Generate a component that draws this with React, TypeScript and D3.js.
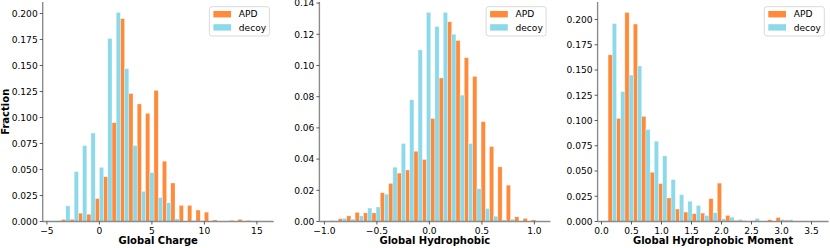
import React from "react";
import * as d3 from "d3";

const W = 830;
const H = 248;

// Global Charge
const chargeStart = -4.4;
const chargeBin = 0.8;
const chargeAPD = [0, 0.002, 0.002, 0.008, 0.007, 0.022, 0.043, 0.095, 0.195, 0.123, 0.113, 0.104, 0.126, 0.058, 0.037, 0.0155, 0.0155, 0.011, 0.009, 0.0015, 0, 0.001, 0.002, 0.001, 0.0005];
const chargeDecoy = [0.001, 0.015, 0.048, 0.073, 0.085, 0.052, 0.176, 0.201, 0.147, 0.073, 0.029, 0.047, 0.023, 0.018, 0.0025, 0.0005, 0.001, 0.001, 0, 0, 0, 0, 0, 0, 0];
const chargeXTicks = [-5, 0, 5, 10, 15];
const chargeYTicks = [0, 0.025, 0.05, 0.075, 0.1, 0.125, 0.15, 0.175, 0.2];

// Global Hydrophobic
const hydroStart = -0.9476;
const hydroBin = 0.08;
const hydroAPD = [0.0005, 0.0018, 0.0036, 0.0058, 0.0055, 0.0055, 0.0184, 0.0244, 0.031, 0.033, 0.045, 0.0397, 0.066, 0.092, 0.128, 0.116, 0.105, 0.093, 0.064, 0.048, 0.035, 0.0233, 0.003, 0.002, 0.001];
const hydroDecoy = [0, 0.002, 0.0015, 0.0036, 0.0086, 0.0093, 0.0175, 0.0348, 0.05, 0.078, 0.11, 0.134, 0.125, 0.134, 0.12, 0.081, 0.05, 0.021, 0.0083, 0.0034, 0.001, 0.0015, 0, 0, 0];
const hydroXTicks = [-1.0, -0.5, 0.0, 0.5, 1.0];
const hydroYTicks = [0, 0.02, 0.04, 0.06, 0.08, 0.1, 0.12, 0.14];

// Global Hydrophobic Moment
const momentStart = 0.11;
const momentBin = 0.14;
const momentAPD = [0.165, 0.102, 0.207, 0.1955, 0.104, 0.0487, 0.0375, 0.0233, 0.0123, 0.0093, 0.0077, 0.0083, 0.0226, 0.038, 0.006, 0.001, 0.0007, 0.0007, 0, 0.0017, 0.004, 0.0013, 0, 0, 0];
const momentDecoy = [0.196, 0.1286, 0.145, 0.154, 0.091, 0.0795, 0.065, 0.0415, 0.0265, 0.02, 0.0158, 0.006, 0.0087, 0.0027, 0.0043, 0.002, 0.0003, 0.003, 0.0005, 0.0003, 0.002, 0.0017, 0.0005, 0.0003, 0.0003];
const momentXTicks = [0, 0.5, 1.0, 1.5, 2.0, 2.5, 3.0, 3.5];
const momentYTicks = [0, 0.025, 0.05, 0.075, 0.1, 0.125, 0.15, 0.175, 0.2];

const seriesNames = ["APD", "decoy"];
const xLabels = ["Global Charge", "Global Hydrophobic", "Global Hydrophobic Moment"];
const yLabel = "Fraction";

const ORANGE = "#ff8a3a";
const CYAN = "#8cd9ea";
const FONT = "DejaVu Sans, sans-serif";

const panels = [
  { left: 42.7, start: chargeStart, bin: chargeBin, apd: chargeAPD, decoy: chargeDecoy, xTicks: chargeXTicks, yTicks: chargeYTicks, xFmt: d3.format("d"), yFmt: d3.format(".3f"), xlabel: xLabels[0] },
  { left: 319.4, start: hydroStart, bin: hydroBin, apd: hydroAPD, decoy: hydroDecoy, xTicks: hydroXTicks, yTicks: hydroYTicks, xFmt: d3.format(".1f"), yFmt: d3.format(".2f"), xlabel: xLabels[1] },
  { left: 597.6, start: momentStart, bin: momentBin, apd: momentAPD, decoy: momentDecoy, xTicks: momentXTicks, yTicks: momentYTicks, xFmt: d3.format(".1f"), yFmt: d3.format(".3f"), xlabel: xLabels[2] },
];

const AX_W = 231;
const AX_TOP = 2;
const AX_BOTTOM = 221.5;

function Panel({ p, showY }: { p: any; showY: boolean }) {
  const n = p.apd.length;
  const total = n * p.bin;
  const pad = 0.05 * total;
  const x = d3.scaleLinear().domain([p.start - pad, p.start + total + pad]).range([p.left, p.left + AX_W]);
  const maxV = d3.max([...p.apd, ...p.decoy]) as number;
  const y = d3.scaleLinear().domain([0, maxV * 1.05]).range([AX_BOTTOM, AX_TOP]);
  const right = p.left + AX_W;
  const lx = right - 64.3;
  const ly = AX_TOP + 4.7;
  return (
    <g>
      {p.apd.map((v: number, i: number) => {
        const x0 = p.start + i * p.bin;
        return (
          <rect key={"a" + i} x={x(x0)} width={x(x0 + p.bin / 2) - x(x0)} y={y(v)} height={y(0) - y(v)}
            fill={ORANGE} stroke="#ffffff" strokeOpacity={0.55} strokeWidth={0.5} />
        );
      })}
      {p.decoy.map((v: number, i: number) => {
        const x0 = p.start + i * p.bin + p.bin / 2;
        return (
          <rect key={"d" + i} x={x(x0)} width={x(x0 + p.bin / 2) - x(x0)} y={y(v)} height={y(0) - y(v)}
            fill={CYAN} stroke="#ffffff" strokeOpacity={0.55} strokeWidth={0.5} />
        );
      })}
      {/* spines */}
      <line x1={p.left} x2={p.left} y1={AX_TOP} y2={AX_BOTTOM} stroke="#8c8c8c" strokeWidth={1.4} />
      <line x1={p.left} x2={right} y1={AX_BOTTOM} y2={AX_BOTTOM} stroke="#8c8c8c" strokeWidth={1.4} />
      {p.xTicks.map((t: number) => (
        <g key={"xt" + t}>
          <line x1={x(t)} x2={x(t)} y1={AX_BOTTOM} y2={AX_BOTTOM + 3} stroke="#333" strokeWidth={0.8} />
          <text x={x(t)} y={234} textAnchor="middle" fontSize={9.1} fontFamily={FONT} fill="#000">{p.xFmt(t)}</text>
        </g>
      ))}
      {p.yTicks.map((t: number) => (
        <g key={"yt" + t}>
          <line x1={p.left - 3} x2={p.left} y1={y(t)} y2={y(t)} stroke="#333" strokeWidth={0.8} />
          <text x={p.left - 5} y={y(t)} dy="0.36em" textAnchor="end" fontSize={9.1} fontFamily={FONT} fill="#000">{p.yFmt(t)}</text>
        </g>
      ))}
      <text x={(p.left + right) / 2} y={244.2} textAnchor="middle" fontSize={10} fontWeight="bold" fontFamily={FONT} fill="#000">{p.xlabel}</text>
      {showY && (
        <text transform={`translate(8.8,${(AX_TOP + AX_BOTTOM) / 2}) rotate(-90)`} textAnchor="middle" fontSize={10} fontWeight="bold" fontFamily={FONT} fill="#000">{yLabel}</text>
      )}
      {/* legend */}
      <rect x={lx} y={ly} width={60} height={29.3} rx={2.5} fill="#ffffff" fillOpacity={0.8} stroke="#d0d0d0" strokeWidth={0.8} />
      {seriesNames.map((s, i) => (
        <g key={s}>
          <rect x={lx + 4} y={ly + 4.3 + i * 13.2} width={17.7} height={6.4} fill={i === 0 ? ORANGE : CYAN} />
          <text x={lx + 29.4} y={ly + 7.5 + i * 13.2} dy="0.36em" fontSize={9.1} fontFamily={FONT} fill="#000">{s}</text>
        </g>
      ))}
    </g>
  );
}

export default function App() {
  return (
    <svg width={W} height={H} style={{ display: "block", position: "absolute", left: 0, top: 0 }}>
      <rect x={0} y={0} width={W} height={H} fill="#ffffff" />
      {panels.map((p, i) => (
        <Panel key={i} p={p} showY={i === 0} />
      ))}
    </svg>
  );
}
